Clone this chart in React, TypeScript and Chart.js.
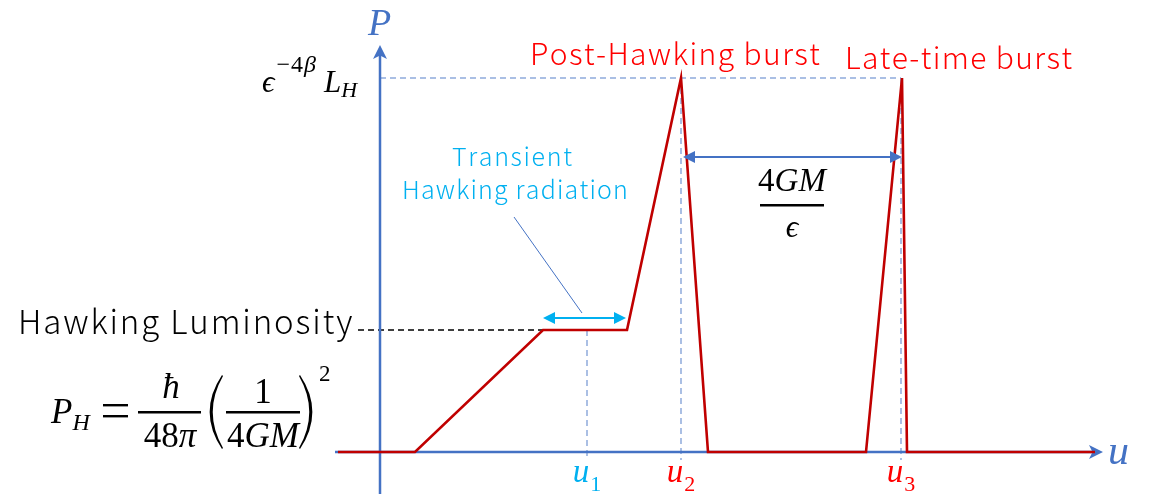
import React, { useEffect, useRef } from "react";
import { Chart, registerables } from "chart.js";

Chart.register(...registerables);

// Time (u) and power (P) values of the red curve, in diagram units
const U_VALUES = [-4.2, 3.5, 16.3, 24.7, 30.1, 32.8, 48.6, 52.2, 52.7, 71.5];
const P_VALUES = [0, 0, 12.2, 12.2, 37.4, 0, 0, 37.4, 0, 0];

// Marked times u1, u2, u3
const MARK_U = [20.7, 30.1, 52.1];
const MARK_SUB = ["1", "2", "3"];

// Levels
const L_H = 12.2; // Hawking luminosity
const PEAK = 37.4; // epsilon^{-4beta} L_H

// Axis extents
const U_AXIS = [-4.5, 72.3];
const P_AXIS = [-4.2, 40.7];

// Transient interval
const TRANSIENT = [16.3, 24.6];

const BLUE = "#4472C4";
const DASH_BLUE = "#8FAADC";
const RED_LINE = "#C00000";
const RED_TEXT = "#FF0000";
const CYAN = "#00B0F0";
const SANS = '"Noto Sans CJK JP", "Noto Sans", sans-serif';
const SERIF = '"Liberation Serif", "DejaVu Serif", serif';

function arrowHead(ctx: CanvasRenderingContext2D, x: number, y: number, dir: number, len: number, half: number, color: string) {
  ctx.save();
  ctx.translate(x, y);
  ctx.rotate(dir);
  ctx.fillStyle = color;
  ctx.beginPath();
  ctx.moveTo(0, 0);
  ctx.lineTo(-len, -half);
  ctx.lineTo(-len * 0.75, 0);
  ctx.lineTo(-len, half);
  ctx.closePath();
  ctx.fill();
  ctx.restore();
}

function triHead(ctx: CanvasRenderingContext2D, x: number, y: number, dir: number, len: number, half: number, color: string) {
  ctx.save();
  ctx.translate(x, y);
  ctx.rotate(dir);
  ctx.fillStyle = color;
  ctx.beginPath();
  ctx.moveTo(0, 0);
  ctx.lineTo(-len, -half);
  ctx.lineTo(-len, half);
  ctx.closePath();
  ctx.fill();
  ctx.restore();
}

// draws text spread to a given width (left edge x)
function spreadText(ctx: CanvasRenderingContext2D, text: string, x: number, y: number, width: number, font: string, color: string) {
  ctx.save();
  ctx.font = font;
  ctx.fillStyle = color;
  ctx.textAlign = "left";
  ctx.textBaseline = "alphabetic";
  const w = ctx.measureText(text).width;
  const n = text.length - 1;
  const sp = n > 0 ? (width - w) / n : 0;
  let cx = x;
  for (const ch of text) {
    ctx.fillText(ch, cx, y);
    cx += ctx.measureText(ch).width + sp;
  }
  ctx.restore();
}

type Piece = { t: string; size: number; italic?: boolean; dy?: number; dx?: number; at?: number };

function runWidth(ctx: CanvasRenderingContext2D, pieces: Piece[]) {
  let w = 0;
  for (const p of pieces) {
    ctx.font = `${p.italic ? "italic " : ""}${p.size}px ${SERIF}`;
    w += ctx.measureText(p.t).width + (p.dx || 0);
  }
  return w;
}

function drawRun(ctx: CanvasRenderingContext2D, pieces: Piece[], x: number, y: number, color: string, align: "left" | "center" = "left") {
  let cx = align === "center" ? x - runWidth(ctx, pieces) / 2 : x;
  ctx.fillStyle = color;
  ctx.textAlign = "left";
  ctx.textBaseline = "alphabetic";
  for (const p of pieces) {
    ctx.font = `${p.italic ? "italic " : ""}${p.size}px ${SERIF}`;
    cx += p.dx || 0;
    if (p.at !== undefined) cx = p.at;
    ctx.fillText(p.t, cx, y + (p.dy || 0));
    cx += ctx.measureText(p.t).width;
  }
}

function paren(ctx: CanvasRenderingContext2D, x: number, top: number, bottom: number, w: number, left: boolean) {
  const mid = (top + bottom) / 2;
  const s = left ? -1 : 1;
  const x0 = left ? x + w : x;
  ctx.fillStyle = "#000";
  ctx.beginPath();
  ctx.moveTo(x0, top);
  ctx.quadraticCurveTo(x0 + s * w * 1.9, mid, x0, bottom);
  ctx.lineTo(x0 - s * 1.0, bottom - 1);
  ctx.quadraticCurveTo(x0 + s * w * 1.5, mid, x0 - s * 1.0, top + 1);
  ctx.closePath();
  ctx.fill();
}

const diagramPlugin = {
  id: "diagram",
  beforeDatasetsDraw(chart: any) {
    const ctx: CanvasRenderingContext2D = chart.ctx;
    const xs = chart.scales.x;
    const ys = chart.scales.y;
    const X = (v: number) => xs.getPixelForValue(v);
    const Y = (v: number) => ys.getPixelForValue(v);
    ctx.save();

    // dashed guides
    ctx.setLineDash([6, 4]);
    ctx.lineWidth = 1.5;
    ctx.strokeStyle = DASH_BLUE;
    ctx.beginPath();
    ctx.moveTo(X(0), Y(PEAK));
    ctx.lineTo(X(MARK_U[2]), Y(PEAK));
    ctx.stroke();
    const tops = [L_H, PEAK, PEAK];
    MARK_U.forEach((u, i) => {
      ctx.beginPath();
      ctx.moveTo(X(u), Y(tops[i]));
      ctx.lineTo(X(u), Y(0) + 8);
      ctx.stroke();
    });
    ctx.strokeStyle = "#000";
    ctx.lineWidth = 1.3;
    ctx.beginPath();
    ctx.moveTo(X(0) - 22, Y(L_H));
    ctx.lineTo(X(TRANSIENT[0]), Y(L_H));
    ctx.stroke();
    ctx.setLineDash([]);

    // axes
    ctx.strokeStyle = BLUE;
    ctx.lineWidth = 2.5;
    ctx.beginPath();
    ctx.moveTo(X(U_AXIS[0]), Y(0));
    ctx.lineTo(X(U_AXIS[1]) - 10, Y(0));
    ctx.stroke();
    arrowHead(ctx, X(U_AXIS[1]), Y(0), 0, 14, 7, BLUE);
    ctx.beginPath();
    ctx.moveTo(X(0), Y(P_AXIS[0]));
    ctx.lineTo(X(0), Y(P_AXIS[1]) + 10);
    ctx.stroke();
    arrowHead(ctx, X(0), Y(P_AXIS[1]), -Math.PI / 2, 14, 7, BLUE);
    ctx.restore();
  },
  afterDatasetsDraw(chart: any) {
    const ctx: CanvasRenderingContext2D = chart.ctx;
    const xs = chart.scales.x;
    const ys = chart.scales.y;
    const X = (v: number) => xs.getPixelForValue(v);
    const Y = (v: number) => ys.getPixelForValue(v);
    ctx.save();

    // axis labels
    drawRun(ctx, [{ t: "P", size: 38, italic: true }], X(0) - 12, Y(P_AXIS[1]) - 10, BLUE);
    drawRun(ctx, [{ t: "u", size: 42, italic: true }], X(U_AXIS[1]) + 5, Y(0) + 12, BLUE);

    // u marks
    const markColors = [CYAN, RED_TEXT, RED_TEXT];
    MARK_U.forEach((u, i) => {
      drawRun(
        ctx,
        [
          { t: "u", size: 33, italic: true },
          { t: MARK_SUB[i], size: 22, dy: 9, dx: 1 },
        ],
        X(u),
        Y(0) + 30,
        markColors[i],
        "center"
      );
    });

    // epsilon^{-4 beta} L_H
    drawRun(
      ctx,
      [
        { t: "ϵ", size: 31, italic: true, at: 262 },
        { t: "−", size: 24, dy: -20, dx: 2 },
        { t: "4", size: 24, dy: -20, dx: 1 },
        { t: "β", size: 24, italic: true, dy: -20, dx: 1 },
        { t: "L", size: 31, italic: true, at: 324 },
        { t: "H", size: 22, italic: true, dy: 5 },
      ],
      262,
      Y(PEAK) + 14,
      "#000"
    );

    // burst titles
    const titleFont = `300 30px ${SANS}`;
    spreadText(ctx, "Post-Hawking burst", 530, Y(PEAK) - 13, 287, titleFont, RED_TEXT);
    spreadText(ctx, "Late-time burst", 845, Y(PEAK) - 9, 225, titleFont, RED_TEXT);

    // Hawking Luminosity
    spreadText(ctx, "Hawking Luminosity", 18, Y(L_H) + 4, 334, `300 33px ${SANS}`, "#000");

    // formula P_H = hbar/(48 pi) (1/4GM)^2
    const base = 447;
    const bar = 412;
    drawRun(ctx, [{ t: "P", size: 35, italic: true }, { t: "H", size: 24, italic: true, dy: 7 }], 51, 423, "#000");
    ctx.fillStyle = "#000";
    ctx.fillRect(103, 404, 25, 2.4);
    ctx.fillRect(103, 415, 25, 2.4);
    ctx.fillRect(138, bar - 1, 63, 2.5);
    drawRun(ctx, [{ t: "ħ", size: 35, italic: true }], 171, 398, "#000", "center");
    drawRun(ctx, [{ t: "48", size: 35 }, { t: "π", size: 35, italic: true }], 170, base, "#000", "center");
    paren(ctx, 209, 375, 449, 13, true);
    ctx.fillStyle = "#000";
    ctx.fillRect(226, bar - 1, 74, 2.5);
    drawRun(ctx, [{ t: "1", size: 35 }], 263, 403, "#000", "center");
    drawRun(ctx, [{ t: "4", size: 35 }, { t: "GM", size: 35, italic: true }], 263, base, "#000", "center");
    paren(ctx, 300, 375, 449, 13, false);
    drawRun(ctx, [{ t: "2", size: 23 }], 319, 381, "#000");

    // Transient Hawking radiation
    spreadText(ctx, "Transient", 452, 166, 118, `300 25px ${SANS}`, CYAN);
    spreadText(ctx, "Hawking radiation", 402, 199, 225, `300 25px ${SANS}`, CYAN);
    ctx.strokeStyle = BLUE;
    ctx.lineWidth = 1;
    ctx.beginPath();
    ctx.moveTo(514, 217);
    ctx.lineTo(582, 313);
    ctx.stroke();

    // transient double arrow
    const ty = Y(L_H) - 12;
    ctx.strokeStyle = CYAN;
    ctx.lineWidth = 2;
    ctx.beginPath();
    ctx.moveTo(X(TRANSIENT[0]) + 8, ty);
    ctx.lineTo(X(TRANSIENT[1]) - 8, ty);
    ctx.stroke();
    triHead(ctx, X(TRANSIENT[0]), ty, Math.PI, 12, 6, CYAN);
    triHead(ctx, X(TRANSIENT[1]), ty, 0, 12, 6, CYAN);

    // 4GM / epsilon double arrow
    const gy = 157;
    ctx.strokeStyle = BLUE;
    ctx.lineWidth = 2;
    ctx.beginPath();
    ctx.moveTo(X(MARK_U[1]) + 8, gy);
    ctx.lineTo(X(MARK_U[2]) - 8, gy);
    ctx.stroke();
    triHead(ctx, X(MARK_U[1]) + 2, gy, Math.PI, 12, 6, BLUE);
    triHead(ctx, X(MARK_U[2]) + 1, gy, 0, 12, 6, BLUE);
    const fx = (X(MARK_U[1]) + X(MARK_U[2])) / 2 + 1;
    drawRun(ctx, [{ t: "4", size: 33 }, { t: "GM", size: 33, italic: true }], fx, 191, "#000", "center");
    ctx.fillStyle = "#000";
    ctx.fillRect(fx - 32, 204, 64, 2.5);
    drawRun(ctx, [{ t: "ϵ", size: 31, italic: true }], fx, 237, "#000", "center");

    ctx.restore();
  },
};

export default function App() {
  const ref = useRef<HTMLCanvasElement | null>(null);
  useEffect(() => {
    document.body.style.margin = "0";
    const canvas = ref.current!;
    const chart = new Chart(canvas, {
      type: "line",
      data: {
        datasets: [
          {
            data: U_VALUES.map((u, i) => ({ x: u, y: P_VALUES[i] })),
            borderColor: RED_LINE,
            borderWidth: 2.6,
            pointRadius: 0,
            tension: 0,
            fill: false,
          },
        ],
      },
      options: {
        animation: false,
        responsive: false,
        events: [],
        layout: { padding: 0 },
        plugins: { legend: { display: false }, tooltip: { enabled: false } },
        scales: {
          x: { type: "linear", min: -38, max: 76.9, display: false },
          y: { type: "linear", min: -4.2, max: 45.2, display: false },
        },
      },
      plugins: [diagramPlugin],
    });
    return () => chart.destroy();
  }, []);
  return (
    <div style={{ width: 1149, height: 494, background: "#fff" }}>
      <canvas ref={ref} width={1149} height={494} style={{ display: "block" }} />
    </div>
  );
}
